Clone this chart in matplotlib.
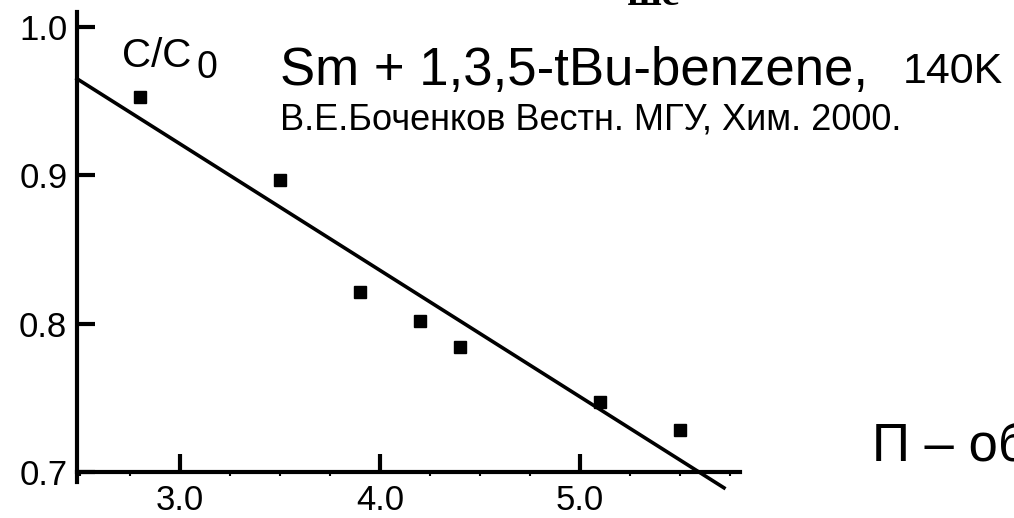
import numpy as np
import matplotlib.pyplot as plt
from matplotlib.ticker import MultipleLocator

plt.rcParams['font.family'] = ['Liberation Sans', 'DejaVu Sans']

# measured concentration ratio vs x
x = [2.8, 3.5, 3.9, 4.2, 4.4, 5.1, 5.5]
c_ratio = [0.953, 0.897, 0.821, 0.802, 0.784, 0.747, 0.728]

# straight-line fit through the points
slope, intercept = np.polyfit(x, c_ratio, 1)
x_fit = np.array([2.485, 5.72])
y_fit = intercept + slope * x_fit

W, H = 1014, 518
fig = plt.figure(figsize=(W / 100, H / 100), dpi=100)
# axes box in pixels: left 77, right 740, top 12, bottom 472
ax = fig.add_axes([77 / W, 1 - 472 / H, (740 - 77) / W, (472 - 12) / H])

ax.plot(x, c_ratio, 's', color='black', ms=8.5, zorder=3)
ax.plot(x_fit, y_fit, '-', color='black', lw=2.6, clip_on=False)

ax.set_xlim(2.485, 5.8)
ax.set_ylim(0.7, 1.01)
for side in ['top', 'right']:
    ax.spines[side].set_visible(False)
for side in ['left', 'bottom']:
    ax.spines[side].set_linewidth(3)
ax.spines['left'].set_bounds(0.693, 1.01)

ax.xaxis.set_minor_locator(MultipleLocator(0.25))
ax.set_xticks([3.0, 4.0, 5.0])
ax.set_xticklabels(['3.0', '4.0', '5.0'])
ax.set_yticks([0.7, 0.8, 0.9, 1.0])
ax.set_yticklabels(['0.7', '0.8', '0.9', '1.0'])

ax.tick_params(axis='both', which='major', direction='in', length=13,
               width=3, labelsize=25, color='black')
ax.tick_params(axis='x', which='major', pad=9)
ax.tick_params(axis='y', which='major', pad=7)
ax.tick_params(axis='x', which='minor', direction='out', length=3, width=1.5)

def px(xp, yp):
    return xp / W, 1 - yp / H

# axis label written inside the plot
fig.text(*px(122, 67), 'C/C', fontsize=29, ha='left', va='baseline')
fig.text(*px(197, 78), '0', fontsize=27, ha='left', va='baseline')

fig.text(*px(280, 85), 'Sm + 1,3,5-tBu-benzene,', fontsize=38,
         ha='left', va='baseline')
fig.text(*px(903, 83), '140K', fontsize=31, ha='left', va='baseline')
fig.text(*px(280, 130), 'В.Е.Боченков Вестн. МГУ, Хим. 2000.', fontsize=26,
         ha='left', va='baseline')

# fragments running off the slide edges
fig.text(*px(627, 5), 'ше', fontsize=30, family='Liberation Serif',
         weight='bold', ha='left', va='baseline')
fig.text(*px(872, 462), 'П – об', fontsize=38, ha='left', va='baseline')

fig.savefig('out.png', dpi=100)
